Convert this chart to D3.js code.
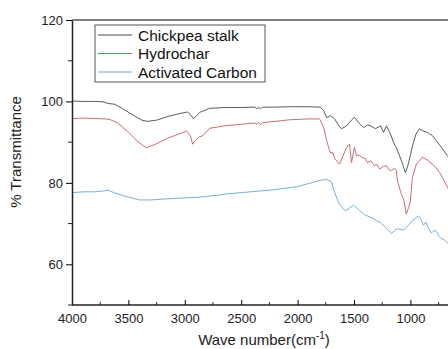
<!DOCTYPE html>
<html>
<head>
<meta charset="utf-8">
<script src="https://cdn.jsdelivr.net/npm/d3@7"></script>
<style>
  body { margin: 0; background: #fff; }
  svg { display: block; font-family: Arial, "Liberation Sans", sans-serif; }
</style>
</head>
<body>
<div id="chart"></div>
<script>
// Series names and colours
var seriesNames  = ["Chickpea stalk", "Hydrochar", "Activated Carbon"];
var seriesColors = ["#4a4a4a", "#c45c62", "#6aa6d2"];

// Chickpea stalk: wave number (cm-1) / % transmittance
var chickpeaWn = [4000, 3900, 3800, 3725, 3680, 3620, 3550, 3450, 3380, 3330, 3250, 3150, 3050, 2975, 2945, 2925, 2900, 2870, 2840, 2780, 2650, 2500, 2380, 2360, 2345, 2330, 2310, 2200, 2070, 1900, 1800, 1770, 1743, 1710, 1673, 1637, 1610, 1566, 1520, 1496, 1460, 1416, 1380, 1354, 1310, 1265, 1239, 1212, 1177, 1150, 1124, 1080, 1044, 1020, 982, 950, 920, 894, 850, 805, 760, 717, 673, 650];
var chickpeaT  = [100.1, 100.0, 100.0, 99.9, 99.5, 99.3, 98.2, 96.5, 95.4, 95.1, 95.4, 96.3, 97.0, 97.4, 96.6, 95.8, 96.3, 97.3, 97.6, 98.3, 98.5, 98.5, 98.6, 98.2, 98.6, 98.2, 98.6, 98.6, 98.7, 98.7, 98.6, 97.8, 96.0, 96.5, 95.8, 94.1, 93.3, 94.0, 95.5, 96.1, 94.8, 93.6, 94.2, 94.0, 93.3, 94.0, 92.4, 94.0, 92.0, 90.0, 88.6, 85.5, 82.5, 84.5, 89.0, 92.0, 93.3, 92.8, 92.4, 91.6, 90.0, 88.4, 86.7, 86.0];

// Hydrochar
var hydrocharWn = [4000, 3900, 3800, 3700, 3660, 3600, 3500, 3420, 3340, 3250, 3150, 3050, 2982, 2950, 2930, 2905, 2870, 2840, 2780, 2650, 2500, 2380, 2360, 2345, 2330, 2310, 2200, 2070, 1900, 1805, 1770, 1743, 1710, 1690, 1673, 1628, 1600, 1566, 1540, 1522, 1496, 1478, 1450, 1434, 1400, 1381, 1350, 1319, 1300, 1274, 1240, 1212, 1190, 1168, 1142, 1124, 1115, 1080, 1060, 1036, 1015, 1000, 982, 946, 920, 894, 850, 788, 740, 700, 673, 650];
var hydrocharT  = [95.8, 95.9, 95.8, 95.7, 95.5, 94.8, 92.5, 90.2, 88.6, 89.6, 91.0, 92.0, 92.7, 91.5, 89.5, 90.5, 91.3, 91.6, 93.4, 94.0, 94.4, 94.7, 94.3, 94.8, 94.3, 94.8, 95.1, 95.5, 95.7, 95.7, 93.7, 90.4, 87.3, 87.5, 86.0, 84.6, 86.5, 88.7, 89.5, 85.0, 88.7, 86.7, 86.8, 86.3, 86.0, 85.0, 85.4, 84.2, 84.6, 83.4, 84.0, 84.2, 83.2, 83.0, 83.6, 83.0, 80.5, 77.2, 76.0, 72.3, 74.0, 75.6, 81.3, 84.7, 85.4, 86.3, 85.6, 84.2, 82.5, 80.5, 79.0, 78.0];

// Activated Carbon
var carbonWn = [4000, 3900, 3800, 3750, 3680, 3620, 3500, 3400, 3300, 3200, 3000, 2867, 2700, 2655, 2500, 2212, 2000, 1920, 1800, 1743, 1700, 1681, 1637, 1600, 1575, 1540, 1504, 1460, 1416, 1350, 1265, 1200, 1168, 1130, 1106, 1062, 1036, 1000, 960, 929, 905, 885, 870, 858, 840, 814, 790, 770, 750, 735, 700, 673, 650];
var carbonT  = [77.6, 77.8, 77.8, 77.9, 78.2, 77.5, 76.5, 75.8, 75.8, 76.0, 76.3, 76.5, 77.0, 77.2, 77.6, 78.3, 79.1, 79.7, 80.6, 80.9, 80.2, 78.4, 75.1, 73.8, 73.1, 73.8, 74.5, 73.5, 72.3, 71.5, 70.2, 68.5, 67.6, 68.5, 68.7, 68.4, 69.0, 70.2, 71.2, 71.9, 71.0, 69.6, 70.2, 70.2, 68.8, 67.7, 68.3, 68.1, 67.0, 66.5, 66.0, 65.3, 65.0];

// Axis ticks
var xTicks      = [4000, 3500, 3000, 2500, 2000, 1500, 1000];
var xMinorTicks = [3750, 3250, 2750, 2250, 1750, 1250, 750];
var yTicks      = [60, 80, 100, 120];
var yMinorTicks = [50, 70, 90, 110];

var width     = 448,
    height    = 349,
    plotLeft  = 72,
    plotTop   = 20,
    plotBottom = 305;

var svg = d3.select("#chart").append("svg")
    .attr("width", width).attr("height", height);

// Scales: x runs past the right edge of the picture
var x = d3.scaleLinear().domain([4000, 400]).range([plotLeft, plotLeft + 3600 * 0.1128]);
var y = d3.scaleLinear().domain([50, 120]).range([plotBottom, plotTop]);

svg.append("clipPath").attr("id", "plot-clip")
  .append("rect")
    .attr("x", plotLeft).attr("y", plotTop)
    .attr("width", width - plotLeft).attr("height", plotBottom - plotTop);

// Curves
var series = [
    { name: seriesNames[0], color: seriesColors[0], wn: chickpeaWn,  t: chickpeaT },
    { name: seriesNames[1], color: seriesColors[1], wn: hydrocharWn, t: hydrocharT },
    { name: seriesNames[2], color: seriesColors[2], wn: carbonWn,    t: carbonT }
];

var line = d3.line()
    .x(function(d) { return x(d[0]); })
    .y(function(d) { return y(d[1]); });

svg.append("g")
    .attr("clip-path", "url(#plot-clip)")
  .selectAll("path")
  .data(series)
  .enter().append("path")
    .attr("fill", "none")
    .attr("stroke", function(d) { return d.color; })
    .attr("stroke-width", 0.9)
    .attr("d", function(d) { return line(d.wn.map(function(w, i) { return [w, d.t[i]]; })); });

// Bottom axis, ticks pointing inward
var xAxis = svg.append("g")
    .attr("transform", "translate(0," + plotBottom + ")")
    .call(d3.axisBottom(x).tickValues(xTicks).tickFormat(d3.format("d"))
        .tickSizeInner(-5).tickSizeOuter(0).tickPadding(9));
xAxis.select(".domain").attr("d", "M" + plotLeft + ",0H" + width);
xAxis.selectAll(".tick text").attr("font-size", 13).attr("fill", "#222");
xAxis.append("g").selectAll("line")
  .data(xMinorTicks)
  .enter().append("line")
    .attr("x1", function(d) { return x(d); }).attr("x2", function(d) { return x(d); })
    .attr("y1", 0).attr("y2", -3)
    .attr("stroke", "#222");

// Left axis, ticks pointing outward
var yAxis = svg.append("g")
    .attr("transform", "translate(" + plotLeft + ",0)")
    .call(d3.axisLeft(y).tickValues(yTicks).tickSize(6).tickSizeOuter(0).tickPadding(3));
yAxis.selectAll(".tick text").attr("font-size", 13).attr("fill", "#222");
yAxis.append("g").selectAll("line")
  .data(yMinorTicks)
  .enter().append("line")
    .attr("x1", 0).attr("x2", -4)
    .attr("y1", function(d) { return y(d); }).attr("y2", function(d) { return y(d); })
    .attr("stroke", "#222");

svg.selectAll(".domain").attr("stroke", "#222").attr("stroke-width", 1.5);

// Top frame line
svg.append("line")
    .attr("x1", plotLeft).attr("x2", width)
    .attr("y1", plotTop).attr("y2", plotTop)
    .attr("stroke", "#555").attr("stroke-width", 1.5);

// Axis titles
svg.append("text")
    .attr("transform", "translate(21,152) rotate(-90)")
    .attr("text-anchor", "middle")
    .attr("font-size", 15)
    .attr("fill", "#222")
    .text("% Transmittance");

var xt = svg.append("text")
    .attr("x", 264).attr("y", 345)
    .attr("text-anchor", "middle")
    .attr("font-size", 15)
    .attr("fill", "#222");
xt.append("tspan").text("Wave number(cm");
xt.append("tspan").attr("dy", -6).attr("font-size", 10).text("-1");
xt.append("tspan").attr("dy", 6).text(")");

// Legend
var legend = svg.append("g").attr("transform", "translate(95,25)");
legend.append("rect")
    .attr("width", 170).attr("height", 57)
    .attr("fill", "#fff").attr("stroke", "#555").attr("stroke-width", 1);
var rows = legend.selectAll("g.row")
  .data(series)
  .enter().append("g")
    .attr("class", "row")
    .attr("transform", function(d, i) { return "translate(0," + (10 + i * 18.5) + ")"; });
rows.append("line")
    .attr("x1", 3).attr("x2", 37)
    .attr("stroke", function(d) { return d.color; })
    .attr("stroke-width", 1);
rows.append("text")
    .attr("x", 43).attr("dy", "0.36em")
    .attr("font-size", 15.5)
    .attr("fill", "#111")
    .text(function(d) { return d.name; });
</script>
</body>
</html>
